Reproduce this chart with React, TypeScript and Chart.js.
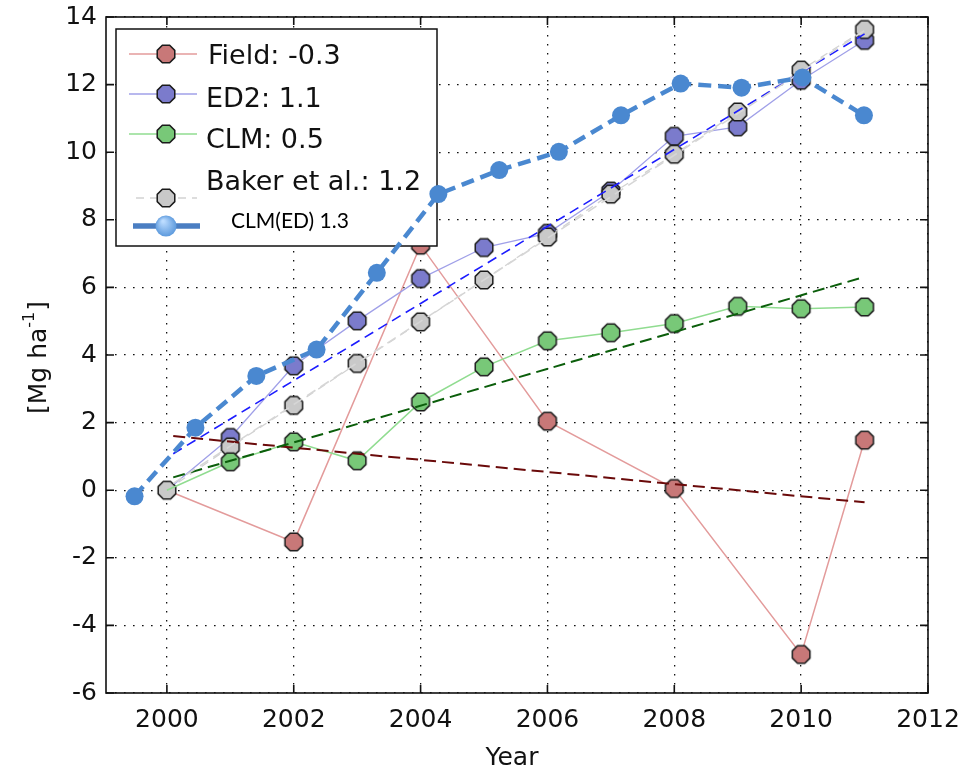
import React, { useEffect, useRef } from "react";
import { Chart, registerables } from "chart.js";

Chart.register(...registerables);

// Annual biomass increment series (Mg ha-1)
const fieldYears = [2000, 2002, 2004, 2006, 2008, 2010, 2011];
const fieldValues = [0, -1.53, 7.25, 2.04, 0.05, -4.86, 1.48];

const modelYears = [2000, 2001, 2002, 2003, 2004, 2005, 2006, 2007, 2008, 2009, 2010, 2011];
const ed2Values = [0, 1.56, 3.68, 5.01, 6.26, 7.18, 7.6, 8.85, 10.47, 10.75, 12.13, 13.31];
const clmValues = [0, 0.84, 1.43, 0.87, 2.61, 3.65, 4.42, 4.66, 4.93, 5.44, 5.37, 5.42];
const bakerValues = [0, 1.28, 2.51, 3.75, 4.98, 6.22, 7.49, 8.76, 9.94, 11.19, 12.43, 13.63];

const clmEdYears = [1999.49, 2000.45, 2001.41, 2002.36, 2003.31, 2004.28, 2005.24, 2006.18, 2007.16, 2008.1, 2009.06, 2010.02, 2010.99];
const clmEdValues = [-0.18, 1.85, 3.38, 4.16, 6.43, 8.76, 9.47, 10.01, 11.09, 12.03, 11.91, 12.21, 11.09];

// Linear fits (end points)
const trendYears = [2000.1, 2011];
const fieldTrend = [1.6, -0.36];
const ed2Trend = [1.08, 13.5];
const clmTrend = [0.38, 6.31];
const bakerTrend = [0.2, 13.6];

const xTicks = [2000, 2002, 2004, 2006, 2008, 2010, 2012];
const legendLabels = ["Field: -0.3", "ED2: 1.1", "CLM: 0.5", "Baker et al.: 1.2", "CLM(ED) 1.3"];

const FIELD_FILL = "#c87878";
const FIELD_LINE = "#e39b9b";
const ED2_FILL = "#7b7bcc";
const ED2_LINE = "#a0a0e8";
const CLM_FILL = "#78c878";
const CLM_LINE = "#90dc90";
const BAKER_FILL = "#c9c9c9";
const BAKER_LINE = "#d2d2d2";
const CLMED = "#4a88d0";

const FONT = "'DejaVu Sans', sans-serif";

function octagon(fill: string, r = 9.5): HTMLCanvasElement {
  const size = 24;
  const c = document.createElement("canvas");
  c.width = size;
  c.height = size;
  const g = c.getContext("2d")!;
  g.beginPath();
  for (let i = 0; i < 8; i++) {
    const a = Math.PI / 8 + (i * Math.PI) / 4;
    const px = size / 2 + r * Math.cos(a);
    const py = size / 2 + r * Math.sin(a);
    if (i === 0) g.moveTo(px, py);
    else g.lineTo(px, py);
  }
  g.closePath();
  g.fillStyle = fill;
  g.fill();
  g.lineWidth = 1.5;
  g.strokeStyle = "#1a1a1a";
  g.stroke();
  return c;
}

function pts(xs: number[], ys: number[]) {
  return xs.map((x, i) => ({ x, y: ys[i] }));
}

export default function App() {
  const ref = useRef<HTMLCanvasElement | null>(null);

  useEffect(() => {
    if (!ref.current) return;
    const fieldImg = octagon(FIELD_FILL);
    const ed2Img = octagon(ED2_FILL);
    const clmImg = octagon(CLM_FILL);
    const bakerImg = octagon(BAKER_FILL);

    const hideFirst = (r: number) => (ctx: any) => (ctx.dataIndex === 0 ? 0 : r);

    const drawLegend = (chart: any) => {
      const ctx = chart.ctx as CanvasRenderingContext2D;
      ctx.save();
      ctx.fillStyle = "#fff";
      ctx.fillRect(116, 29, 321, 217);
      ctx.strokeStyle = "#111";
      ctx.lineWidth = 1.5;
      ctx.strokeRect(116, 29, 321, 217);

      const rows = [
        { y: 54, ty: 64, line: FIELD_LINE, img: fieldImg, dash: [] as number[], tx: 208 },
        { y: 94, ty: 107, line: ED2_LINE, img: ed2Img, dash: [], tx: 206 },
        { y: 134, ty: 148, line: CLM_LINE, img: clmImg, dash: [], tx: 206 },
        { y: 198, ty: 190, line: BAKER_LINE, img: bakerImg, dash: [8, 6], tx: 206 },
      ];
      rows.forEach((r, i) => {
        ctx.beginPath();
        ctx.setLineDash(r.dash);
        ctx.strokeStyle = r.line;
        ctx.lineWidth = 1.5;
        ctx.moveTo(i === 3 ? 136 : 129, r.y);
        ctx.lineTo(197, r.y);
        ctx.stroke();
        ctx.setLineDash([]);
        ctx.drawImage(r.img, 166 - r.img.width / 2, r.y - r.img.height / 2);
        ctx.fillStyle = "#111";
        ctx.font = `27px ${FONT}`;
        ctx.textBaseline = "alphabetic";
        ctx.textAlign = "left";
        ctx.fillText(legendLabels[i], r.tx, r.ty);
      });

      // CLM(ED) entry
      ctx.beginPath();
      ctx.strokeStyle = "#4a7ec2";
      ctx.lineWidth = 5.5;
      ctx.moveTo(133, 226);
      ctx.lineTo(200, 226);
      ctx.stroke();
      const grad = ctx.createRadialGradient(163, 221, 1, 166, 226, 11);
      grad.addColorStop(0, "#bcdcff");
      grad.addColorStop(1, "#5a98dc");
      ctx.beginPath();
      ctx.arc(166, 226, 10.5, 0, Math.PI * 2);
      ctx.fillStyle = grad;
      ctx.fill();
      ctx.fillStyle = "#000";
      ctx.font = "21px Lato, 'Open Sans', sans-serif";
      ctx.fillText(legendLabels[4], 231, 228);
      ctx.restore();
    };

    const framePlugin = {
      id: "frameAndLegend",
      beforeDatasetDraw(chart: any, args: any) {
        if (chart.data.datasets[args.index].label === "CLM(ED)") drawLegend(chart);
      },
      afterDraw(chart: any) {
        const ctx = chart.ctx as CanvasRenderingContext2D;
        const { left, right, top, bottom } = chart.chartArea;
        const xs = chart.scales.x;
        const ys = chart.scales.y;
        ctx.save();
        ctx.strokeStyle = "#111";
        ctx.lineWidth = 1.6;
        ctx.strokeRect(left, top, right - left, bottom - top);
        ctx.beginPath();
        const tl = 8;
        xs.ticks.forEach((t: any) => {
          const px = xs.getPixelForValue(t.value);
          ctx.moveTo(px, bottom);
          ctx.lineTo(px, bottom - tl);
          ctx.moveTo(px, top);
          ctx.lineTo(px, top + tl);
        });
        ys.ticks.forEach((t: any) => {
          const py = ys.getPixelForValue(t.value);
          ctx.moveTo(left, py);
          ctx.lineTo(left + tl, py);
          ctx.moveTo(right, py);
          ctx.lineTo(right - tl, py);
        });
        ctx.stroke();

        // axis titles
        ctx.fillStyle = "#111";
        ctx.textAlign = "center";
        ctx.textBaseline = "alphabetic";
        ctx.font = `25px ${FONT}`;
        ctx.fillText("Year", 512, 765);

        ctx.translate(37, 358);
        ctx.rotate(-Math.PI / 2);
        ctx.textAlign = "left";
        const main = "[Mg ha";
        const sup = "-1";
        const end = "]";
        ctx.font = `25px ${FONT}`;
        const w1 = ctx.measureText(main).width;
        const w3 = ctx.measureText(end).width;
        ctx.font = `16px ${FONT}`;
        const w2 = ctx.measureText(sup).width;
        const x0 = -(w1 + w2 + w3) / 2;
        ctx.font = `25px ${FONT}`;
        ctx.fillText(main, x0, 9);
        ctx.fillText(end, x0 + w1 + w2 + 1, 9);
        ctx.font = `16px ${FONT}`;
        ctx.fillText(sup, x0 + w1, -3);
        ctx.restore();
      },
    };

    const chart = new Chart(ref.current, {
      type: "line",
      data: {
        datasets: [
          {
            label: "CLM(ED)",
            data: pts(clmEdYears, clmEdValues),
            borderColor: CLMED,
            borderWidth: 4.5,
            borderDash: [13, 7],
            pointRadius: 9,
            pointStyle: "circle",
            pointBackgroundColor: CLMED,
            pointBorderWidth: 0,
            order: 0,
          },
          {
            label: "Baker trend",
            data: pts(trendYears, bakerTrend),
            borderColor: "#d6d6d6",
            borderWidth: 1.6,
            borderDash: [10, 6],
            pointRadius: 0,
            order: 1,
          },
          {
            label: "ED2 trend",
            data: pts(trendYears, ed2Trend),
            borderColor: "#1c1cff",
            borderWidth: 1.6,
            borderDash: [10, 6],
            pointRadius: 0,
            order: 1,
          },
          {
            label: "CLM trend",
            data: pts(trendYears, clmTrend),
            borderColor: "#0b5e0b",
            borderWidth: 2,
            borderDash: [12, 6],
            pointRadius: 0,
            order: 1,
          },
          {
            label: "Field trend",
            data: pts(trendYears, fieldTrend),
            borderColor: "#6a0a0a",
            borderWidth: 2,
            borderDash: [12, 6],
            pointRadius: 0,
            order: 1,
          },
          {
            label: "CLM",
            data: pts(modelYears, clmValues),
            borderColor: CLM_LINE,
            borderWidth: 1.5,
            pointStyle: clmImg,
            pointRadius: hideFirst(10),
            order: 2,
          },
          {
            label: "Baker et al.",
            data: pts(modelYears, bakerValues),
            borderColor: BAKER_LINE,
            borderWidth: 1.3,
            borderDash: [8, 6],
            pointStyle: bakerImg,
            pointRadius: 10,
            order: 3,
          },
          {
            label: "ED2",
            data: pts(modelYears, ed2Values),
            borderColor: ED2_LINE,
            borderWidth: 1.3,
            pointStyle: ed2Img,
            pointRadius: hideFirst(10),
            order: 4,
          },
          {
            label: "Field",
            data: pts(fieldYears, fieldValues),
            borderColor: FIELD_LINE,
            borderWidth: 1.5,
            pointStyle: fieldImg,
            pointRadius: hideFirst(10),
            order: 5,
          },
        ] as any,
      },
      options: {
        animation: false,
        responsive: false,
        maintainAspectRatio: false,
        layout: { padding: { top: 17, right: 35, left: 0, bottom: 0 } },
        plugins: { legend: { display: false }, tooltip: { enabled: false } },
        elements: { line: { tension: 0, fill: false } },
        scales: {
          x: {
            type: "linear",
            min: 1999.04,
            max: 2012,
            afterBuildTicks: (s: any) => {
              s.ticks = xTicks.map((v) => ({ value: v }));
            },
            afterFit: (s: any) => {
              s.height = 78;
              s.paddingLeft = 0;
              s.paddingRight = 0;
            },
            grid: { color: "#111", lineWidth: 1.3, drawTicks: false },
            border: { display: false, dash: [1.6, 7.4] },
            ticks: {
              color: "#111",
              font: { family: FONT, size: 25 },
              padding: 12,
              maxRotation: 0,
              autoSkip: false,
              callback: (v: any) => String(v),
            },
          },
          y: {
            min: -6,
            max: 14,
            afterFit: (s: any) => {
              s.width = 106;
              s.paddingTop = 0;
              s.paddingBottom = 0;
            },
            grid: { color: "#111", lineWidth: 1.3, drawTicks: false },
            border: { display: false, dash: [1.6, 7.4] },
            ticks: {
              stepSize: 2,
              color: "#111",
              font: { family: FONT, size: 25 },
              padding: 9,
              callback: (v: any) => String(v),
            },
          },
        },
      } as any,
      plugins: [framePlugin],
    });
    return () => chart.destroy();
  }, []);

  return (
    <div style={{ position: "absolute", left: 0, top: 0, width: 963, height: 771, background: "#fff" }}>
      <canvas ref={ref} width={963} height={771} style={{ display: "block", width: 963, height: 771 }} />
    </div>
  );
}
